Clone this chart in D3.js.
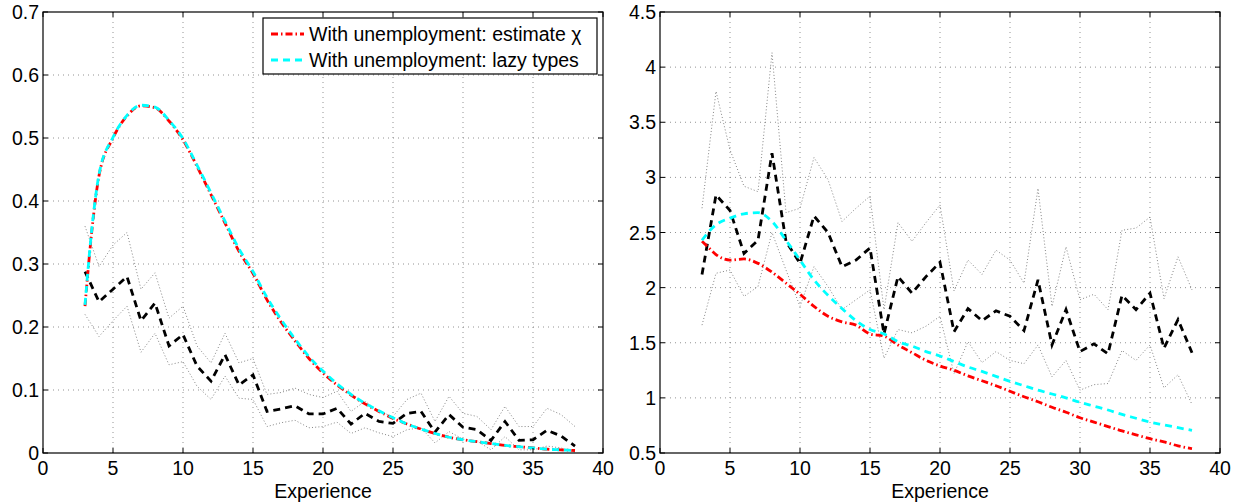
<!DOCTYPE html>
<html>
<head>
<meta charset="utf-8"/>
<script src="https://cdnjs.cloudflare.com/ajax/libs/d3/7.8.5/d3.min.js"></script>
<style>
  body { margin: 0; background: #fff; }
  svg text { font-family: "Liberation Sans", Arial, Helvetica, sans-serif; fill: #000; }
</style>
</head>
<body>
<svg id="chart" width="1241" height="504"></svg>
<script>
// experience years 3..38
var years = [3,4,5,6,7,8,9,10,11,12,13,14,15,16,17,18,19,20,21,22,23,24,25,26,27,28,29,30,31,32,33,34,35,36,37,38];
var modelYears = [3,3.5,4,5,6,7,8,9,10,11,12,13,14,15,16,17,18,19,20,21,22,23,24,25,26,27,28,29,30,31,32,33,34,35,36,37,38];

// left panel
var leftData  = [0.288,0.24,0.26,0.28,0.21,0.238,0.17,0.188,0.138,0.114,0.156,0.108,0.124,0.066,0.07,0.075,0.062,0.062,0.071,0.046,0.063,0.05,0.047,0.063,0.066,0.033,0.061,0.041,0.037,0.02,0.05,0.02,0.021,0.036,0.027,0.011];
var leftUpper = [0.36,0.296,0.33,0.35,0.26,0.286,0.214,0.233,0.17,0.143,0.19,0.143,0.15,0.093,0.096,0.103,0.093,0.088,0.098,0.066,0.082,0.066,0.058,0.085,0.095,0.05,0.09,0.063,0.058,0.037,0.074,0.042,0.042,0.071,0.061,0.042];
var leftLower = [0.22,0.185,0.21,0.233,0.16,0.19,0.14,0.145,0.106,0.085,0.122,0.087,0.085,0.042,0.048,0.052,0.04,0.042,0.049,0.031,0.04,0.032,0.026,0.037,0.04,0.016,0.034,0.022,0.019,0.005,0.026,0.005,0.005,0.011,0.008,0.001];
var leftChi   = [0.233,0.355,0.44,0.5,0.535,0.551,0.548,0.527,0.497,0.455,0.41,0.365,0.32,0.285,0.243,0.208,0.178,0.15,0.127,0.108,0.092,0.078,0.066,0.055,0.046,0.038,0.031,0.025,0.021,0.018,0.015,0.012,0.01,0.008,0.006,0.005,0.004];
var leftLazy  = [0.235,0.358,0.442,0.501,0.536,0.552,0.549,0.528,0.499,0.457,0.413,0.368,0.324,0.288,0.247,0.212,0.181,0.153,0.13,0.11,0.093,0.079,0.067,0.056,0.046,0.038,0.031,0.025,0.021,0.018,0.015,0.012,0.01,0.008,0.006,0.005,0.004];

// right panel
var rightData  = [2.12,2.84,2.7,2.31,2.43,3.22,2.42,2.22,2.65,2.5,2.19,2.25,2.36,1.58,2.1,1.95,2.1,2.23,1.6,1.81,1.7,1.79,1.74,1.61,2.07,1.48,1.8,1.42,1.49,1.4,1.93,1.8,1.95,1.45,1.71,1.41];
var rightUpper = [2.72,3.78,3.25,2.92,2.87,4.13,2.68,2.72,3.18,2.98,2.6,2.72,2.83,1.8,2.59,2.42,2.59,2.75,1.97,2.25,2.12,2.34,2.25,2.04,2.9,1.83,2.37,1.89,1.94,1.8,2.52,2.54,2.64,1.9,2.28,1.98];
var rightLower = [1.66,2.13,2.16,1.92,2.01,2.5,2.16,1.83,2.19,2.01,1.8,1.89,1.98,1.36,1.62,1.59,1.65,1.74,1.22,1.51,1.32,1.42,1.34,1.31,1.48,1.19,1.34,1.07,1.12,1.13,1.43,1.34,1.48,1.09,1.21,0.94];
var rightChi   = [2.42,2.36,2.3,2.25,2.26,2.22,2.14,2.04,1.94,1.83,1.74,1.69,1.66,1.58,1.56,1.48,1.41,1.34,1.29,1.25,1.2,1.155,1.11,1.06,1.01,0.965,0.915,0.87,0.82,0.78,0.74,0.7,0.665,0.63,0.6,0.565,0.54];
var rightLazy  = [2.43,2.51,2.57,2.63,2.67,2.68,2.6,2.43,2.25,2.07,1.93,1.81,1.7,1.62,1.58,1.51,1.47,1.42,1.38,1.33,1.28,1.24,1.195,1.15,1.11,1.07,1.035,1.0,0.96,0.925,0.89,0.85,0.815,0.78,0.755,0.73,0.705];

var xTicks = [0,5,10,15,20,25,30,35,40];
var leftYTicks = [0,0.1,0.2,0.3,0.4,0.5,0.6,0.7];
var leftYLabels = ["0","0.1","0.2","0.3","0.4","0.5","0.6","0.7"];
var rightYTicks = [0.5,1,1.5,2,2.5,3,3.5,4,4.5];
var rightYLabels = ["0.5","1","1.5","2","2.5","3","3.5","4","4.5"];

var legendLabels = ["With unemployment: estimate \u03c7", "With unemployment: lazy types"];

var fs = 19.5;
var svg = d3.select("#chart");

function panel(cfg) {
  var x = d3.scaleLinear().domain([0, 40]).range([cfg.left, cfg.right]);
  var y = d3.scaleLinear().domain(cfg.yDomain).range([cfg.bottom, cfg.top]);
  var g = svg.append("g");

  // grid
  g.selectAll(".gx").data(xTicks.slice(1, -1)).enter().append("line")
    .attr("x1", function(d){return x(d);}).attr("x2", function(d){return x(d);})
    .attr("y1", cfg.top).attr("y2", cfg.bottom)
    .attr("stroke", "#777").attr("stroke-width", 0.8).attr("stroke-dasharray", "1,4");
  g.selectAll(".gy").data(cfg.yTicks.slice(1, -1)).enter().append("line")
    .attr("y1", function(d){return y(d);}).attr("y2", function(d){return y(d);})
    .attr("x1", cfg.left).attr("x2", cfg.right)
    .attr("stroke", "#777").attr("stroke-width", 0.8).attr("stroke-dasharray", "1,4");

  // CI dotted
  var line = d3.line().x(function(d){return x(d[0]);}).y(function(d){return y(d[1]);});
  [cfg.upper, cfg.lower].forEach(function(arr) {
    g.append("path").datum(d3.zip(years, arr)).attr("d", line)
      .attr("fill", "none").attr("stroke", "#666").attr("stroke-width", 0.8)
      .attr("stroke-dasharray", "1,2.2");
  });
  // data
  g.append("path").datum(d3.zip(years, cfg.data)).attr("d", line)
    .attr("fill", "none").attr("stroke", "#000").attr("stroke-width", 2.8)
    .attr("stroke-dasharray", "7,5");

  var smooth = d3.line().curve(d3.curveMonotoneX)
    .x(function(d){return x(d[0]);}).y(function(d){return y(d[1]);});
  g.append("path").datum(d3.zip(modelYears, cfg.chi)).attr("d", smooth)
    .attr("fill", "none").attr("stroke", "#ff0000").attr("stroke-width", 2.8)
    .attr("stroke-dasharray", "7,3,1.5,3");
  g.append("path").datum(d3.zip(modelYears, cfg.lazy)).attr("d", smooth)
    .attr("fill", "none").attr("stroke", "#00ffff").attr("stroke-width", 2.8)
    .attr("stroke-dasharray", "7,5");

  // box
  g.append("rect").attr("x", cfg.left).attr("y", cfg.top)
    .attr("width", cfg.right - cfg.left).attr("height", cfg.bottom - cfg.top)
    .attr("fill", "none").attr("stroke", "#000").attr("stroke-width", 1.2);

  // ticks (inward, all sides)
  var tl = 5;
  xTicks.forEach(function(t) {
    g.append("line").attr("x1", x(t)).attr("x2", x(t)).attr("y1", cfg.bottom).attr("y2", cfg.bottom - tl)
      .attr("stroke", "#000");
    g.append("line").attr("x1", x(t)).attr("x2", x(t)).attr("y1", cfg.top).attr("y2", cfg.top + tl)
      .attr("stroke", "#000");
    g.append("text").attr("x", x(t)).attr("y", cfg.bottom + 22).attr("text-anchor", "middle")
      .attr("font-size", fs).text(t);
  });
  cfg.yTicks.forEach(function(t, i) {
    g.append("line").attr("x1", cfg.left).attr("x2", cfg.left + tl).attr("y1", y(t)).attr("y2", y(t))
      .attr("stroke", "#000");
    g.append("line").attr("x1", cfg.right).attr("x2", cfg.right - tl).attr("y1", y(t)).attr("y2", y(t))
      .attr("stroke", "#000");
    g.append("text").attr("x", cfg.left - 4).attr("y", y(t) + 7).attr("text-anchor", "end")
      .attr("font-size", fs).text(cfg.yLabels[i]);
  });

  g.append("text").attr("x", (cfg.left + cfg.right) / 2).attr("y", cfg.bottom + 45)
    .attr("text-anchor", "middle").attr("font-size", fs).text("Experience");

  return g;
}

var lg = panel({left: 43, right: 603, top: 12, bottom: 453, yDomain: [0, 0.7],
  yTicks: leftYTicks, yLabels: leftYLabels,
  data: leftData, upper: leftUpper, lower: leftLower, chi: leftChi, lazy: leftLazy});

panel({left: 660, right: 1220, top: 12, bottom: 453, yDomain: [0.5, 4.5],
  yTicks: rightYTicks, yLabels: rightYLabels,
  data: rightData, upper: rightUpper, lower: rightLower, chi: rightChi, lazy: rightLazy});

// legend
var leg = lg.append("g");
leg.append("rect").attr("x", 263).attr("y", 18).attr("width", 334).attr("height", 56)
  .attr("fill", "#fff").attr("stroke", "#000").attr("stroke-width", 1.2);
var legStyles = [{c: "#ff0000", dash: "7,3,1.5,3"}, {c: "#00ffff", dash: "7,5"}];
legendLabels.forEach(function(l, i) {
  var yy = 34 + i * 26;
  leg.append("line").attr("x1", 271).attr("x2", 304).attr("y1", yy).attr("y2", yy)
    .attr("stroke", legStyles[i].c).attr("stroke-width", 2.8).attr("stroke-dasharray", legStyles[i].dash);
  leg.append("text").attr("x", 309).attr("y", yy + 7).attr("font-size", fs).text(l);
});
</script>
</body>
</html>
